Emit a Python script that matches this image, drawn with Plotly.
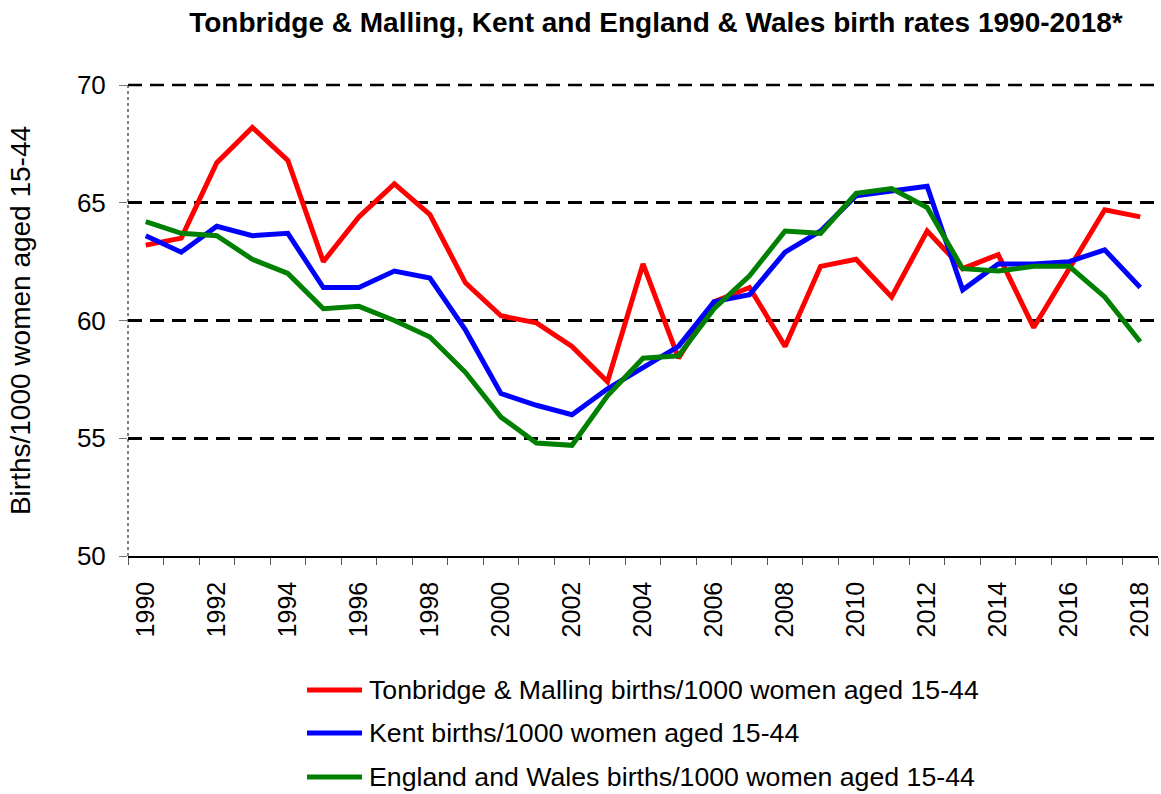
import plotly.graph_objects as go

# Birth rates per 1000 women aged 15-44
years = list(range(1990, 2019))

tonbridge_malling = [63.2, 63.5, 66.7, 68.2, 66.8, 62.5, 64.4, 65.8, 64.5, 61.6,
                     60.2, 59.9, 58.9, 57.4, 62.4, 58.4, 60.8, 61.4, 58.9, 62.3,
                     62.6, 61.0, 63.8, 62.2, 62.8, 59.7, 62.2, 64.7, 64.4]

kent = [63.6, 62.9, 64.0, 63.6, 63.7, 61.4, 61.4, 62.1, 61.8, 59.6,
        56.9, 56.4, 56.0, 57.1, 58.0, 58.9, 60.8, 61.1, 62.9, 63.8,
        65.3, 65.5, 65.7, 61.3, 62.4, 62.4, 62.5, 63.0, 61.4]

england_wales = [64.2, 63.7, 63.6, 62.6, 62.0, 60.5, 60.6, 60.0, 59.3, 57.8,
                 55.9, 54.8, 54.7, 56.8, 58.4, 58.5, 60.5, 61.9, 63.8, 63.7,
                 65.4, 65.6, 64.8, 62.2, 62.1, 62.3, 62.3, 61.0, 59.1]

series_names = [
    "Tonbridge & Malling births/1000 women aged 15-44",
    "Kent births/1000 women aged 15-44",
    "England and Wales births/1000 women aged 15-44",
]
series_values = [tonbridge_malling, kent, england_wales]
series_colors = ["#FF0000", "#0000FF", "#008000"]

x_tick_years = list(range(1990, 2019, 2))
y_ticks = [50, 55, 60, 65, 70]
y_min, y_max = 50, 70

FONT = "Arial, Liberation Sans, sans-serif"
GRID_DASH = "14px,8px"

fig = go.Figure()
for name, vals, col in zip(series_names, series_values, series_colors):
    fig.add_trace(go.Scatter(
        x=years, y=vals, name=name, mode="lines",
        line=dict(color=col, width=5),
        showlegend=False,
    ))

# Legend drawn as swatch + label rows beneath the plot
legend_rows_y = [-0.2845, -0.3758, -0.4692]
for name, col, ly in zip(series_names, series_colors, legend_rows_y):
    fig.add_shape(type="line", xref="paper", yref="paper",
                  x0=0.1738, x1=0.2272, y0=ly, y1=ly,
                  line=dict(color=col, width=5))
    fig.add_annotation(xref="paper", yref="paper", x=0.2320, y=ly,
                       xanchor="left", yanchor="middle", showarrow=False,
                       text=name, font=dict(family=FONT, size=26.7, color="black"))

# Dotted vertical axis line on the left
fig.add_shape(type="line", xref="paper", yref="paper", x0=0, x1=0, y0=0, y1=1,
              line=dict(color="black", width=1, dash="dot"))

# Dashed gridline along the top edge of the plot (the y_max level)
fig.add_shape(type="line", xref="paper", yref="paper", x0=0, x1=1, y0=1, y1=1,
              line=dict(color="black", width=2.5, dash=GRID_DASH), layer="below")

fig.update_layout(
    width=1161, height=794,
    margin=dict(l=128, r=3, t=85, b=238),
    paper_bgcolor="white", plot_bgcolor="white",
    font=dict(family=FONT, color="black"),
    title=dict(
        text="<b>Tonbridge & Malling, Kent and England & Wales birth rates 1990-2018*</b>",
        x=0.565, xanchor="center", xref="container",
        y=1 - 22 / 794, yanchor="middle", yref="container",
        font=dict(family=FONT, size=28, color="black"),
    ),
    xaxis=dict(
        range=[1989.5, 2018.5],
        tickmode="array", tickvals=x_tick_years,
        ticktext=[str(y) for y in x_tick_years],
        tickangle=-90, ticks="", ticklabelstandoff=14,
        tickfont=dict(family=FONT, size=25, color="black"),
        showgrid=False, zeroline=False,
        showline=True, linecolor="black", linewidth=1.5,
        minor=dict(ticks="outside", tickmode="array",
                   tickvals=[y - 0.5 for y in years] + [2018.5],
                   ticklen=7, tickcolor="#555555", tickwidth=1, showgrid=False),
    ),
    yaxis=dict(
        range=[y_min, y_max],
        tickmode="array", tickvals=y_ticks,
        ticks="outside", ticklen=8, tickcolor="#777777", tickwidth=1,
        ticklabelstandoff=8,
        tickfont=dict(family=FONT, size=26, color="black"),
        showgrid=True, gridcolor="black", gridwidth=2.5, griddash=GRID_DASH,
        zeroline=False, showline=False,
        title=dict(text="Births/1000 women aged 15-44",
                   font=dict(family=FONT, size=28, color="black"),
                   standoff=38),
    ),
)

fig.write_html("out.html")
